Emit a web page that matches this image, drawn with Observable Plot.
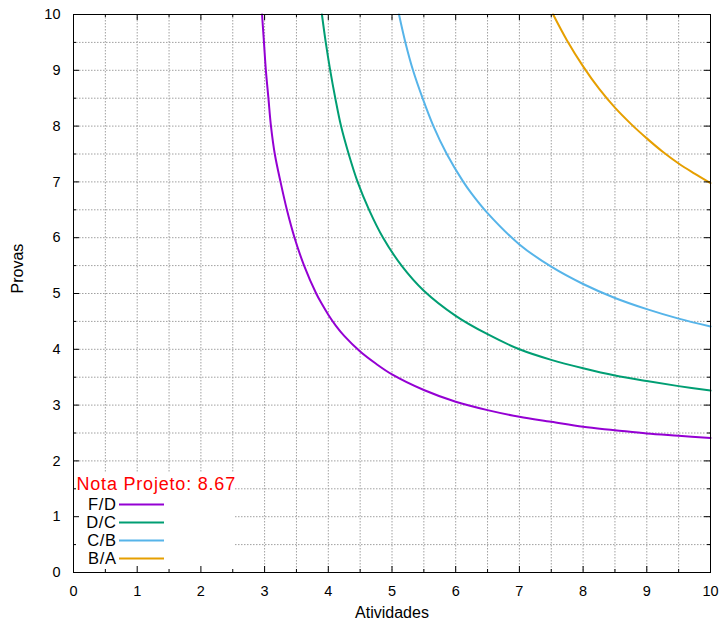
<!DOCTYPE html>
<html><head><meta charset="utf-8">
<script src="https://cdn.jsdelivr.net/npm/d3@7"></script>
<script src="https://cdn.jsdelivr.net/npm/@observablehq/plot@0.6"></script>
<style>
body{margin:0;background:#fff;}
#chart{width:719px;height:623px;}
</style></head>
<body><div id="chart"></div>
<script>
// ---- data ----
const majorTicks = [0,1,2,3,4,5,6,7,8,9,10];
const minorTicks = [0.5,1.5,2.5,3.5,4.5,5.5,6.5,7.5,8.5,9.5];
const gridLines = [0.5,1,1.5,2,2.5,3,3.5,4,4.5,5,5.5,6,6.5,7,7.5,8,8.5,9,9.5];
const seriesNames = ["F/D","D/C","C/B","B/A"];
const seriesColors = ["#9400d3","#009e73","#56b4e9","#e69f00"];
const legendTitle = "Nota Projeto: 8.67";
const xLabel = "Atividades";
const yLabel = "Provas";

const fdX = [2.96,2.99,3.02,3.06,3.10,3.16,3.25,3.35,3.47,3.62,3.81,3.90,4.00,4.12,4.25,4.50,4.75,5.00,5.50,6.00,6.50,7.00,7.50,8.00,8.50,9.00,9.50,10.00];
const fdY = [10,9.5,9.0,8.5,8.0,7.5,7.0,6.5,6.0,5.5,5.0,4.81,4.62,4.42,4.24,3.96,3.74,3.55,3.27,3.06,2.91,2.79,2.70,2.61,2.55,2.49,2.45,2.41];
const dcX = [3.90,3.96,4.03,4.11,4.20,4.32,4.46,4.64,4.86,5.15,5.50,6.00,6.50,7.00,7.50,8.00,8.50,9.00,9.50,10.00];
const dcY = [10,9.5,9.0,8.5,8.0,7.5,7.0,6.5,6.0,5.5,5.05,4.60,4.27,4.00,3.81,3.66,3.53,3.43,3.34,3.26];
const cbX = [5.11,5.21,5.33,5.48,5.65,5.86,6.12,6.25,6.50,7.00,7.50,8.00,8.50,9.00,9.50,10.00];
const cbY = [10,9.5,9.0,8.5,8.0,7.5,7.0,6.79,6.44,5.88,5.48,5.17,4.92,4.72,4.55,4.41];
const baX = [7.53,7.75,8.00,8.25,8.50,8.75,9.00,9.25,9.50,9.75,10.00];
const baY = [10,9.53,9.07,8.67,8.33,8.04,7.78,7.54,7.33,7.15,6.98];

const seriesXs = [fdX, dcX, cbX, baX];
const seriesYs = [fdY, dcY, cbY, baY];
const rows = seriesNames.flatMap((s, i) => seriesXs[i].map((x, j) => ({series: s, x, y: seriesYs[i][j]})));

// ---- layout ----
const W = 719, H = 623;
const mL = 73, mR = 9, mT = 14, mB = 51;
const plotW = W - mL - mR, plotH = H - mT - mB;
const FONT = "'Liberation Sans', Arial, Helvetica, sans-serif";

function legendBox() {
  const g = d3.create("svg:g");
  const top = 473;
  g.append("rect")
    .attr("x", mL + 0.5).attr("y", top)
    .attr("width", 161).attr("height", H - mB - top)
    .attr("fill", "white");
  return g.node();
}
function legendContent() {
  const g = d3.create("svg:g").attr("font-family", FONT);
  g.append("text").attr("x", mL + 3.5).attr("y", 489.5)
    .attr("text-anchor", "start")
    .attr("fill", "#ff0000").attr("font-size", 18).attr("letter-spacing", "0.8px").text(legendTitle);
  seriesNames.forEach((s, i) => {
    const cy = 504.5 + i * 18;
    g.append("text").attr("x", 116.5).attr("y", cy).attr("dy", "0.35em")
      .attr("text-anchor", "end").attr("font-size", 16.5).attr("letter-spacing", "0.6px")
      .attr("fill", "#000").text(s);
    g.append("line").attr("x1", 119).attr("x2", 164).attr("y1", cy).attr("y2", cy)
      .attr("stroke", seriesColors[i]).attr("stroke-width", 2);
  });
  return g.node();
}

const chart = Plot.plot({
  width: W, height: H,
  marginLeft: mL, marginRight: mR, marginTop: mT, marginBottom: mB,
  style: {fontFamily: FONT, color: "#000", background: "#fff"},
  x: {domain: [0, 10], label: null},
  y: {domain: [0, 10], label: null},
  color: {domain: seriesNames, range: seriesColors},
  marks: [
    Plot.gridX(gridLines, {stroke: "#a0a0a0", strokeOpacity: 1, strokeDasharray: "1.5,1.5"}),
    Plot.gridY(gridLines, {stroke: "#a0a0a0", strokeOpacity: 1, strokeDasharray: "1.5,1.5"}),
    legendBox,
    Plot.line(rows, {x: "x", y: "y", z: "series", stroke: "series", strokeWidth: 2, curve: "catmull-rom"}),
    Plot.frame({stroke: "#000", strokeWidth: 1}),
    // bottom & top ticks
    Plot.tickX(majorTicks, {x: d => d, insetTop: plotH - 6, stroke: "#000"}),
    Plot.tickX(majorTicks, {x: d => d, insetBottom: plotH - 6, stroke: "#000"}),
    Plot.tickX(minorTicks, {x: d => d, insetTop: plotH - 3, stroke: "#000"}),
    Plot.tickX(minorTicks, {x: d => d, insetBottom: plotH - 3, stroke: "#000"}),
    // left & right ticks
    Plot.tickY(majorTicks, {y: d => d, insetRight: plotW - 6, stroke: "#000"}),
    Plot.tickY(majorTicks, {y: d => d, insetLeft: plotW - 6, stroke: "#000"}),
    Plot.tickY(minorTicks, {y: d => d, insetRight: plotW - 3, stroke: "#000"}),
    Plot.tickY(minorTicks, {y: d => d, insetLeft: plotW - 3, stroke: "#000"}),
    Plot.axisX(majorTicks, {tickSize: 0, tickPadding: 13, fontSize: 14.5, label: null, tickFormat: d => String(d)}),
    Plot.axisY(majorTicks, {tickSize: 0, tickPadding: 13, fontSize: 14.5, label: null, tickFormat: d => String(d)}),
    Plot.text([xLabel], {text: d => d, frameAnchor: "bottom", dy: 45, fontSize: 16, fill: "#000", style: {letterSpacing: "0.9px"}}),
    Plot.text([yLabel], {text: d => d, frameAnchor: "left", dx: -56, rotate: -90, fontSize: 16, fill: "#000"}),
    legendContent
  ]
});
document.getElementById("chart").appendChild(chart);
</script>
</body></html>
